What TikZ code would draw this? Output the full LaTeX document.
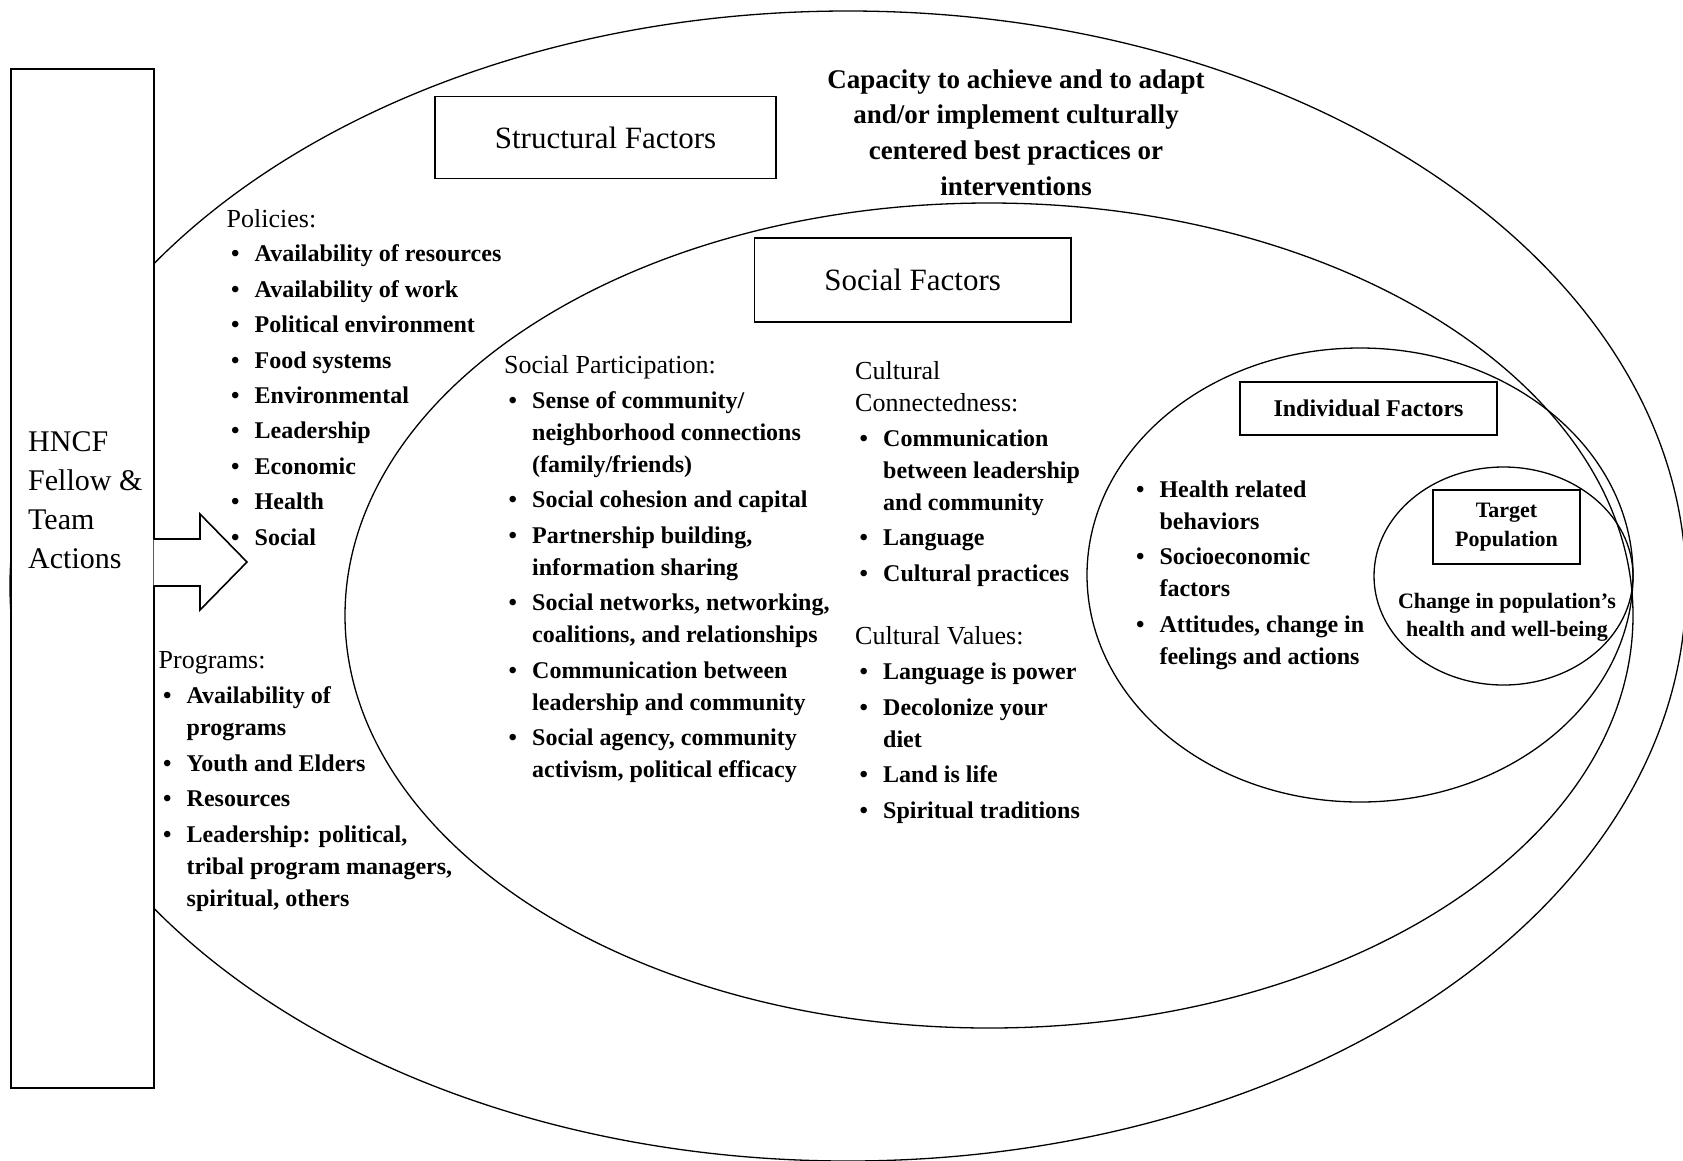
\documentclass[tikz,border=0pt]{standalone}
\usepackage{fontspec}
\setmainfont{Liberation Serif}
\newcommand{\itm}{\makebox[28pt][l]{\hspace{4.5pt}\textbullet}}
\newcommand{\cnt}{\hspace*{28pt}}
\newcommand{\hdr}[1]{{\mdseries\fontsize{26}{32}\selectfont #1}}
\begin{document}
\begin{tikzpicture}[x=1pt,y=-1pt,
    ring/.style={line width=1.3pt},
    titlebox/.style={draw,line width=1.6pt,fill=white,inner sep=0pt,align=center},
    list/.style={inner sep=0pt,anchor=base west,align=left,font=\fontsize{24}{32}\selectfont\bfseries},
    plain/.style={inner sep=0pt,align=center}]
    \useasboundingbox (0,0) rectangle (1683,1160);
    \draw[ring] (848,586) ellipse [x radius=838pt, y radius=575pt];
    \draw[ring] (989,615.5) ellipse [x radius=644pt, y radius=412.5pt];
    \draw[ring] (1360,575) ellipse [x radius=273pt, y radius=227pt];
    \draw[ring] (1503.5,576) ellipse [x radius=129.5pt, y radius=109pt];
    \node[draw,line width=2pt,fill=white,inner sep=0pt,minimum width=143pt,minimum height=1019pt] (hncf) at (82,578.4) {};
    \node[inner sep=0pt,anchor=base west,align=left,font=\fontsize{30}{38.7}\selectfont] (hncftext) at (28,568) {HNCF\\Fellow \&\\Team\\Actions};
    \coordinate (shafttop) at (153.5,539);
    \coordinate (shaftbot) at (153.5,586);
    \draw[line width=1.6pt,fill=white] (shafttop) -- (200,539) -- (200,514) -- (247,562) -- (200,610) -- (200,586) -- (shaftbot);
    \node[titlebox,minimum width=341.5pt,minimum height=82pt,font=\fontsize{31}{36}\selectfont] (structural) at (605.5,137.5) {Structural Factors};
    \node[titlebox,minimum width=316.5pt,minimum height=84pt,font=\fontsize{31}{36}\selectfont] (social) at (912.7,280) {Social Factors};
    \node[titlebox,minimum width=257pt,minimum height=53pt,font=\fontsize{24}{28}\selectfont\bfseries] (individual) at (1368.5,408.5) {Individual Factors};
    \node[titlebox,minimum width=147pt,minimum height=74pt,font=\fontsize{22}{28.7}\selectfont\bfseries] (target) at (1506.5,527) {Target\\Population};
    \node[plain,font=\fontsize{27}{35.7}\selectfont\bfseries] (capacity) at (1016,132.5) {Capacity to achieve and to adapt\\and/or implement culturally\\centered best practices or\\interventions};
    \node[plain,font=\fontsize{22}{28}\selectfont\bfseries] (change) at (1507,617) {Change in population's\\health and well-being};
    \node[list] (policies) at (226.5,545) {\hdr{Policies:}\\[2pt]
        \itm Availability of resources\\[3.4pt]
        \itm Availability of work\\[3.4pt]
        \itm Political environment\\[3.4pt]
        \itm Food systems\\[3.4pt]
        \itm Environmental\\[3.4pt]
        \itm Leadership\\[3.4pt]
        \itm Economic\\[3.4pt]
        \itm Health\\[3.4pt]
        \itm Social};
    \node[list] (programs) at (158.5,906) {\hdr{Programs:}\\[3pt]
        \itm Availability of\\
        \cnt programs\\[3.4pt]
        \itm Youth and Elders\\[3.4pt]
        \itm Resources\\[3.4pt]
        \itm Leadership: political,\\
        \cnt tribal program managers,\\
        \cnt spiritual, others};
    \node[list] (participation) at (504,777.5) {\hdr{Social Participation:}\\[3pt]
        \itm Sense of community/\\
        \cnt neighborhood connections\\
        \cnt (family/friends)\\[3.4pt]
        \itm Social cohesion and capital\\[3.4pt]
        \itm Partnership building,\\
        \cnt information sharing\\[3.4pt]
        \itm Social networks, networking,\\
        \cnt coalitions, and relationships\\[3.4pt]
        \itm Communication between\\
        \cnt leadership and community\\[3.4pt]
        \itm Social agency, community\\
        \cnt activism, political efficacy};
    \node[list] (connectedness) at (855,581) {\hdr{Cultural}\\
        \hdr{Connectedness:}\\[3pt]
        \itm Communication\\
        \cnt between leadership\\
        \cnt and community\\[3.4pt]
        \itm Language\\[3.4pt]
        \itm Cultural practices};
    \node[list] (values) at (855,818) {\hdr{Cultural Values:}\\[3pt]
        \itm Language is power\\[3.4pt]
        \itm Decolonize your\\
        \cnt diet\\[3.4pt]
        \itm Land is life\\[3.4pt]
        \itm Spiritual traditions};
    \node[list] (behaviours) at (1131.3,664) {\itm Health related\\
        \cnt behaviors\\[3.4pt]
        \itm Socioeconomic\\
        \cnt factors\\[3.4pt]
        \itm Attitudes, change in\\
        \cnt feelings and actions};
\end{tikzpicture}
\end{document}
